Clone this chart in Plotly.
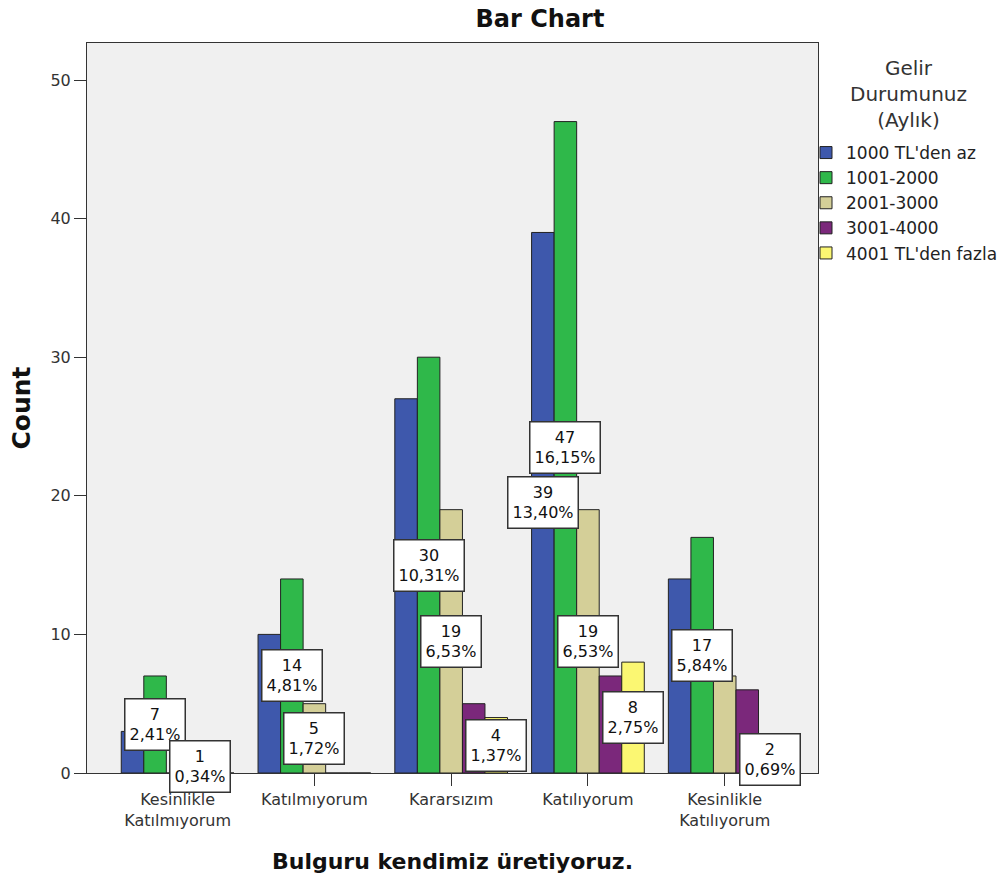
import plotly.graph_objects as go

categories = ["Kesinlikle<br>Katılmıyorum", "Katılmıyorum", "Kararsızım", "Katılıyorum", "Kesinlikle<br>Katılıyorum"]
series_names = ["1000 TL'den az", "1001-2000", "2001-3000", "3001-4000", "4001 TL'den fazla"]
s_1000_az = [3, 10, 27, 39, 14]
s_1001_2000 = [7, 14, 30, 47, 17]
s_2001_3000 = [0, 5, 19, 19, 7]
s_3001_4000 = [1, 0, 5, 7, 6]
s_4001_fazla = [0, 0, 4, 8, 2]
y_ticks = [0, 10, 20, 30, 40, 50]
colors = ["#3e58ac", "#2fb84a", "#d4cf98", "#7b287b", "#fbf772"]
# (category index, series index) of bars that carry a count/percent label
labeled = [(0, 1), (0, 3), (1, 1), (1, 2), (2, 1), (2, 2), (2, 4),
           (3, 1), (3, 0), (3, 2), (3, 4), (4, 1), (4, 4)]

series = [s_1000_az, s_1001_2000, s_2001_3000, s_3001_4000, s_4001_fazla]
total = sum(sum(s) for s in series)
FONT = "DejaVu Sans, Liberation Sans, Arial, sans-serif"
bargap = 0.176
bw = (1 - bargap) / len(series)
xs = list(range(len(categories)))

W, H = 999, 882
ML, MR, MT, MB = 87, 181, 43, 109
PX0, PX1 = ML, W - MR
PY0, PY1 = MT, H - MB


def px_x(px):
    return (px - PX0) / (PX1 - PX0)


def px_y(py):
    return (PY1 - py) / (PY1 - PY0)


fig = go.Figure()
for name, vals, col in zip(series_names, series, colors):
    fig.add_trace(go.Bar(
        x=xs, y=vals, name=name,
        marker=dict(color=col, line=dict(color="#222222", width=1)),
    ))

annotations = []
for ci, si in labeled:
    v = series[si][ci]
    pct = f"{v / total * 100:.2f}".replace(".", ",")
    annotations.append(dict(
        x=ci + (si - (len(series) - 1) / 2) * bw, y=v / 2,
        xref="x", yref="y", text=f"{v}<br>{pct}%", showarrow=False,
        font=dict(family=FONT, size=16, color="#111111"),
        bgcolor="white", bordercolor="#333333", borderwidth=1.5,
        borderpad=4, height=42, align="center",
    ))

# legend title (centred lines)
annotations.append(dict(
    x=px_x(908), y=px_y(94), xref="paper", yref="paper",
    text="Gelir<br>Durumunuz<br>(Aylık)", showarrow=False, align="center",
    xanchor="center", yanchor="middle",
    font=dict(family=FONT, size=20, color="#333333"),
))

fig.update_layout(
    width=W, height=H,
    paper_bgcolor="white", plot_bgcolor="#f0f0f0",
    barmode="group", bargap=bargap, bargroupgap=0,
    margin=dict(l=ML, r=MR, t=MT, b=MB, autoexpand=False),
    font=dict(family=FONT, size=16, color="#333333"),
    title=dict(text="<b>Bar Chart</b>", x=540 / W, xref="container", xanchor="center",
               y=1 - 19 / H, yref="container", yanchor="middle",
               font=dict(family=FONT, size=24, color="#111111")),
    xaxis=dict(range=[-0.6625, 4.682], tickvals=xs, ticktext=categories,
               showline=True, linecolor="#333333", linewidth=1, mirror=True,
               ticks="outside", ticklen=12, tickcolor="#333333", showgrid=False,
               zeroline=False, tickfont=dict(family=FONT, size=16, color="#333333"),
               title=dict(text="<b>Bulguru kendimiz üretiyoruz.</b>", standoff=24,
                          font=dict(family=FONT, size=22, color="#111111"))),
    yaxis=dict(range=[0, 52.67], tickvals=y_ticks,
               showline=True, linecolor="#333333", linewidth=1, mirror=True,
               ticks="outside", ticklen=12, tickcolor="#333333", showgrid=False,
               zeroline=False, tickfont=dict(family=FONT, size=16, color="#333333"),
               title=dict(text="<b>Count</b>", standoff=12,
                          font=dict(family=FONT, size=25, color="#111111"))),
    legend=dict(x=px_x(806), xanchor="left", y=px_y(135), yanchor="top",
                bgcolor="rgba(0,0,0,0)",
                font=dict(family=FONT, size=17, color="#222222"),
                traceorder="normal"),
    annotations=annotations,
    showlegend=True,
)

fig.write_html("out.html", config={"displayModeBar": False},
               post_script="document.body.style.margin='0';")
